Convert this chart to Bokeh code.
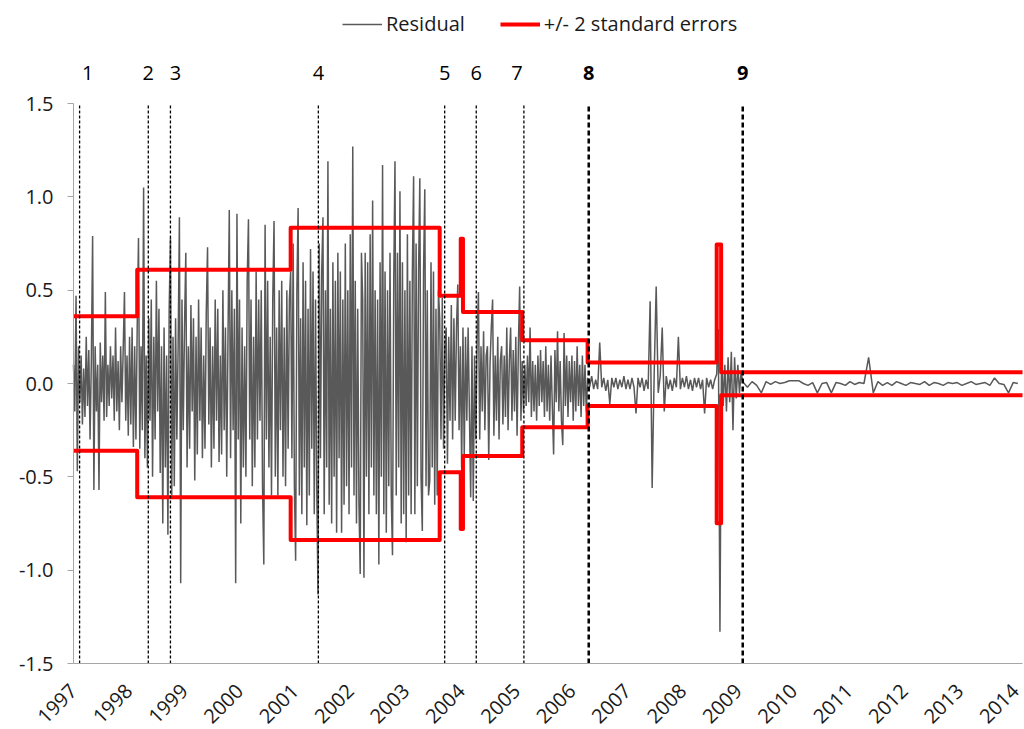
import numpy as np
from bokeh.plotting import figure
from bokeh.models import (Legend, LegendItem, FixedTicker,
                          NumeralTickFormatter, Range1d)
from bokeh.core.properties import value
from bokeh.embed import file_html
from bokeh.resources import INLINE
from math import pi

FONT = "Open Sans"

# ---------------- data ----------------
year_ticks = list(range(1997, 2015))
y_ticks = [-1.5, -1.0, -0.5, 0.0, 0.5, 1.0, 1.5]
x_start, x_end = 1997.0, 2014.13

# residual, read regime by regime (start/end dates of each regime)
seg_bounds = [1997.00, 1998.15, 2000.92, 2003.61, 2004.03, 2005.10,
              2006.28, 2008.61, 2009.08, 2014.13]
res_a = [0.1, -0.15, 0.47, -0.47, 0.2, -0.1, 0.15, -0.22, 0.08, -0.18,
         0.25, -0.12, 0.18, -0.3, 0.12, 0.79, -0.57, 0.2, -0.15, 0.1,
         -0.57, 0.22, -0.1, 0.15, -0.2, 0.49, -0.18, 0.1, -0.12, 0.2,
         -0.08, 0.15, -0.2, 0.3, -0.15, 0.12, -0.25, 0.2, -0.1, 0.18,
         0.49, -0.2, 0.15, -0.28, 0.25, -0.22, 0.3, -0.34, 0.2, -0.3]
res_b = [0.3, 0.78, -0.35, 0.2, -0.25, 1.05, -0.4, 0.15, -0.45, 0.35,
         -0.2, 0.45, -0.5, 0.25, -0.3, 0.55, -0.15, 0.4, -0.48, 0.2,
         -0.75, 0.3, -0.45, 0.15, -0.81, 0.4, 0.78, -0.6, 0.25, -0.55,
         0.35, -0.3, 0.2, 0.89, -1.07, 0.45, -0.25, 0.3, 0.70, -0.45,
         0.2, -0.35, 0.42, -0.15, 0.35, -0.52, 0.25, -0.38, 0.45, -0.2,
         0.3, -0.4, 0.15, -0.35, 0.38, 0.73, -0.22, 0.3, -0.45, 0.2,
         -0.35, 0.45, -0.2, 0.4, -0.42, 0.15, -0.38, 0.5, -0.25, 0.3,
         -0.5, 0.25, 0.93, -0.4, 0.5, -0.25, 0.4, -1.07, 0.91, -0.3,
         0.45, -0.75, 0.3, -0.45, 0.2, -0.5, 0.55, 0.88, -0.3, 0.45,
         -0.55, 0.25, -0.45, 0.6, -0.3, 0.45, -0.2, 0.5, -0.55, -0.97,
         0.85, -0.3, 0.55, -0.45, 0.25, -0.6, 0.45, 0.87, -0.5, 0.3,
         -0.6, 0.5, -0.25, 0.55, -0.5, 0.3, -0.55, 0.5, -0.35, 0.45]
res_c = [0.6, -0.4, 0.75, -0.55, -0.95, 0.5, 0.94, -0.6, 0.35, -0.7,
         0.65, -0.45, 0.55, -0.76, 0.4, -0.6, 0.72, -0.35, 0.6, -0.7,
         0.45, -0.55, -1.13, 0.75, -0.4, 0.6, 0.89, -0.7, 0.5, -0.45,
         1.19, -0.65, 0.4, -0.75, 0.65, -0.5, 0.55, -0.8, 0.7, -0.4,
         0.6, -0.8, 0.45, -0.65, 0.75, -0.55, 0.5, -0.7, 0.8, -0.45,
         1.27, -0.6, 0.55, -0.75, 0.4, -0.65, -1.02, 0.7, 0.45, -1.04,
         0.7, -0.5, 0.65, -0.7, 0.8, -0.45, 0.98, -0.6, 0.5, -0.7,
         0.45, -0.97, 0.65, -0.5, 1.17, -0.7, 0.6, -0.8, 0.5, -0.55,
         0.7, -0.6, -0.92, 0.55, 1.19, -0.6, 0.7, -0.45, 1.03, -0.75,
         0.65, -0.7, 0.5, -0.85, 0.8, -0.6, 0.55, -0.7, 0.6, 1.11,
         -0.7, 0.75, -0.55, 0.6, 1.10, -0.5, -0.79, 0.6, 1.04, -0.55,
         0.5, -0.6, -0.52, 0.65, -0.45, 0.6, -0.65, 0.4, -0.6, 0.5]
res_d = [0.35, -0.3, 0.46, -0.35, 0.2, 0.3, -0.43, 0.25, -0.2, 0.42,
         -0.3, 0.35, -0.2, 0.3, 0.53, -0.25, 0.2, -0.45]
res_e = [0.3, -0.4, 0.25, -0.2, 0.3, -0.15, -0.61, 0.2, -0.63, 0.15,
         -0.3, 0.25, 0.49, -0.3, 0.2, -0.15, 0.28, -0.25, 0.15, 0.2,
         -0.41, 0.1, 0.3, 0.45, -0.28, 0.15, -0.2, 0.25, -0.3, 0.12,
         0.2, -0.22, 0.15, -0.18, 0.3, -0.25, 0.12, 0.3, -0.2, 0.18,
         -0.15, 0.25, -0.28, 0.2, 0.52, -0.2]
res_f = [0.12, -0.15, 0.1, -0.12, 0.15, -0.1, 0.30, -0.18, 0.12, -0.15,
         0.1, -0.2, 0.15, -0.12, 0.18, -0.1, 0.12, -0.18, 0.2, -0.15,
         0.1, -0.2, 0.15, -0.12, -0.38, 0.18, -0.1, 0.28, -0.15, 0.12,
         -0.2, -0.33, 0.27, -0.12, 0.15, -0.18, 0.12, -0.1, 0.15, -0.2,
         0.12, -0.15, 0.2, -0.12, 0.1, -0.18, 0.15, -0.12, 0.1, -0.15]
res_g = [0.03, -0.02, 0.04, -0.03, 0.02, -0.03, 0.22, -0.02, 0.03, -0.04,
         0.02, -0.11, 0.03, -0.02, 0.03, -0.03, 0.02, -0.02, 0.04, -0.03,
         0.02, -0.03, 0.03, -0.02, -0.16, 0.03, -0.02, 0.03, -0.04, 0.02,
         -0.03, 0.44, -0.56, 0.05, 0.52, -0.05, 0.04, 0.3, -0.15, 0.04,
         -0.03, 0.02, -0.04, 0.03, -0.02, 0.25, -0.03, 0.03, -0.02, 0.04,
         -0.03, 0.02, -0.04, 0.03, -0.02, 0.03, -0.03, 0.02, -0.16, 0.03,
         -0.02, 0.02, -0.03, 0.02]
res_h = [0.05, 0.29, -1.33, 0.2, -0.12, 0.1, -0.15, 0.14, -0.1, 0.17,
         -0.25, 0.14, -0.08, 0.1, -0.05, 0.06]
res_i = [0.01, -0.02, 0.01, -0.01, -0.05, 0.01, -0.005, 0.01, 0.0, 0.005,
         0.015, 0.015, 0.015, 0.0, -0.01, 0.005, -0.05, 0.0, 0.005, -0.05,
         0.005, 0.0, -0.01, 0.01, -0.005, 0.005, 0.0, 0.14, -0.05, 0.01,
         -0.01, 0.005, -0.01, 0.01, 0.0, -0.01, 0.005, 0.0, -0.005, 0.01,
         -0.01, 0.005, 0.0, -0.01, 0.005, 0.0, 0.005, -0.01, 0.0, 0.01,
         -0.005, 0.0, 0.005, -0.01, 0.03, 0.0, -0.005, -0.05, 0.005, 0.0]
residual_segments = [res_a, res_b, res_c, res_d, res_e, res_f, res_g, res_h, res_i]

# +/- 2 standard errors (piecewise constant)
se_dates = [1997.0, 1998.15, 2000.92, 2003.61, 2003.99, 2004.03, 2005.10,
            2006.28, 2008.61, 2008.69, 2014.13]
se_upper = [0.36, 0.61, 0.835, 0.47, 0.775, 0.383, 0.232, 0.113, 0.745, 0.06]
se_lower = [-0.36, -0.61, -0.838, -0.476, -0.78, -0.388, -0.234, -0.12, -0.748, -0.063]

# structural breaks
break_dates = [1997.11, 1998.35, 1998.75, 2001.42, 2003.70, 2004.27,
               2005.13, 2006.30, 2009.08]
break_labels = ["1", "2", "3", "4", "5", "6", "7", "8", "9"]
break_major = [False, False, False, False, False, False, False, True, True]

# ---------------- build ----------------
res_x, res_y = [], []
for k, vals in enumerate(residual_segments):
    xs = np.linspace(seg_bounds[k], seg_bounds[k + 1], len(vals), endpoint=False)
    res_x.extend(xs.tolist())
    res_y.extend(vals)

def steps(dates, vals):
    sx, sy = [], []
    for i, v in enumerate(vals):
        sx += [dates[i], dates[i + 1]]
        sy += [v, v]
    return sx, sy

ux, uy = steps(se_dates, se_upper)
lx, ly = steps(se_dates, se_lower)

# layout: axes drawn inside an enlarged frame so nothing gets clipped
Y_MIN, Y_MAX = y_ticks[0], y_ticks[-1]
PX_PER_UNIT = 560 / (Y_MAX - Y_MIN)
y_lo = Y_MIN - 66 / PX_PER_UNIT      # room below the axis for the year labels
y_hi = Y_MAX + 98 / PX_PER_UNIT      # room above for break numbers and legend
PX_PER_YEAR = 949 / (x_end - x_start)
x_lo = x_start - 73 / PX_PER_YEAR    # room left of the axis for value labels
x_hi = x_end + 2 / PX_PER_YEAR

p = figure(width=1024, height=729, output_backend="svg", toolbar_location=None,
           x_range=Range1d(x_lo, x_hi), y_range=Range1d(y_lo, y_hi),
           min_border_left=0, min_border_right=0, min_border_top=5,
           min_border_bottom=0)
p.outline_line_color = None
p.grid.visible = False
p.background_fill_color = "white"

r_res = p.line(res_x, res_y, line_color="#595959", line_width=1.5)
r_up = p.line(ux, uy, line_color="#ff0000", line_width=4, line_join="round")
p.line(lx, ly, line_color="#ff0000", line_width=4, line_join="round")

label_dx = [8, 0, 5, 0, 0, 0, -7, 0, 0]
label_y = Y_MAX + 31 / PX_PER_UNIT
for d, lab, major, dx in zip(break_dates, break_labels, break_major, label_dx):
    p.segment(x0=[d], y0=[Y_MIN], x1=[d], y1=[Y_MAX], line_color="black",
              line_width=2.5 if major else 1.3,
              line_dash="5 3" if major else "3 2")
    p.text(x=[d], y=[label_y], text=[lab], x_offset=dx, text_align="center",
           text_baseline="middle", text_font=value(FONT), text_font_size="20px",
           text_font_style="bold" if major else "normal", text_color="black")

# axes
p.xaxis.fixed_location = Y_MIN
p.xaxis.bounds = (x_start, x_end)
p.xaxis.ticker = FixedTicker(ticks=year_ticks)
p.xaxis.formatter = NumeralTickFormatter(format="0")
p.xaxis.major_label_orientation = pi / 4
p.xaxis.major_tick_out = 0
p.xaxis.major_tick_in = 0
p.xaxis.minor_tick_out = 0
p.xaxis.minor_tick_in = 0
p.xaxis.major_label_standoff = 24
p.xaxis.axis_line_color = "#a6a6a6"

p.yaxis.fixed_location = x_start
p.yaxis.bounds = (Y_MIN, Y_MAX)
p.yaxis.ticker = FixedTicker(ticks=y_ticks)
p.yaxis.formatter = NumeralTickFormatter(format="0.0")
p.yaxis.major_tick_out = 6
p.yaxis.major_tick_in = 0
p.yaxis.minor_tick_out = 0
p.yaxis.minor_tick_in = 0
p.yaxis.major_label_standoff = 14
p.yaxis.axis_line_color = "#a6a6a6"
p.yaxis.major_tick_line_color = "#a6a6a6"

for ax in (p.xaxis, p.yaxis):
    ax.major_label_text_font = FONT
    ax.major_label_text_font_size = "20px"
    ax.major_label_text_color = "#1a1a1a"

legend = Legend(items=[LegendItem(label="Residual", renderers=[r_res]),
                       LegendItem(label="+/- 2 standard errors", renderers=[r_up])],
                location=(342, 692), orientation="horizontal",
                padding=0, margin=0, spacing=35, glyph_width=40, glyph_height=20,
                label_standoff=4, label_text_font=FONT, label_text_font_size="20px",
                label_text_color="#1a1a1a", border_line_alpha=0,
                background_fill_alpha=0)
p.add_layout(legend)

open("out.html", "w").write(file_html(p, INLINE))
